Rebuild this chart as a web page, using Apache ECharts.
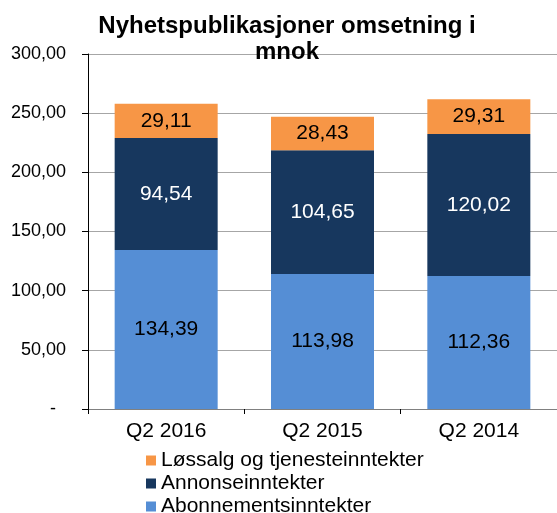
<!DOCTYPE html>
<html>
<head>
<meta charset="utf-8">
<script src="https://cdn.jsdelivr.net/npm/echarts@6/dist/echarts.min.js"></script>
<style>
  html, body { margin: 0; padding: 0; background: #fff; }
  #chart { width: 557px; height: 513px; }
</style>
</head>
<body>
<div id="chart"></div>
<script>
const categories = ["Q2 2016", "Q2 2015", "Q2 2014"];
const abonnement = [134.39, 113.98, 112.36];
const annonse = [94.54, 104.65, 120.02];
const lossalg = [29.11, 28.43, 29.31];
const yTicks = [0, 50, 100, 150, 200, 250, 300];

const FONT = "Liberation Sans, Arial, sans-serif";
const chart = echarts.init(document.getElementById("chart"));

function formatComma(value) {
  return Number(value).toFixed(2).replace(".", ",");
}

function segmentLabel(color) {
  return {
    show: true,
    position: "inside",
    color: color,
    fontFamily: FONT,
    fontSize: 21,
    formatter: ({ value }) => formatComma(value),
  };
}

chart.setOption({
  animation: false,
  backgroundColor: "#fff",
  title: {
    text: "Nyhetspublikasjoner omsetning i\nmnok",
    left: 282,
    top: 8,
    textAlign: "center",
    textStyle: {
      fontFamily: FONT,
      fontSize: 24,
      fontWeight: "bold",
      color: "#000",
      lineHeight: 26,
      align: "center",
    },
  },
  legend: {
    orient: "vertical",
    left: 146,
    top: 450,
    height: 80,
    padding: 0,
    itemWidth: 10,
    itemHeight: 10,
    itemGap: 2,
    icon: "rect",
    data: ["Løssalg og tjenesteinntekter", "Annonseinntekter", "Abonnementsinntekter"],
    textStyle: { fontFamily: FONT, fontSize: 21, color: "#000", lineHeight: 21 },
  },
  grid: {
    left: 88,
    top: 54,
    width: 471,
    height: 355,
  },
  xAxis: {
    type: "category",
    data: categories,
    axisLine: { lineStyle: { color: "#808080", width: 1 } },
    axisTick: { show: true, length: 5, lineStyle: { color: "#000" } },
    axisLabel: { color: "#000", fontFamily: FONT, fontSize: 21, margin: 12 },
  },
  yAxis: {
    type: "value",
    min: yTicks[0],
    max: yTicks[yTicks.length - 1],
    interval: 50,
    axisLine: { show: true, lineStyle: { color: "#000" } },
    axisTick: { show: true, length: 6, lineStyle: { color: "#000" } },
    splitLine: { lineStyle: { color: "#a6a6a6" } },
    axisLabel: {
      color: "#000",
      fontFamily: FONT,
      fontSize: 18,
      margin: 22,
      formatter: (value) => (value === 0 ? "-  " : formatComma(value)),
    },
  },
  series: [
    {
      name: "Abonnementsinntekter",
      type: "bar",
      stack: "total",
      data: abonnement,
      barWidth: 103,
      itemStyle: { color: "#558ED5" },
      label: segmentLabel("#000"),
    },
    {
      name: "Annonseinntekter",
      type: "bar",
      stack: "total",
      data: annonse,
      barWidth: 103,
      itemStyle: { color: "#17375E" },
      label: segmentLabel("#fff"),
    },
    {
      name: "Løssalg og tjenesteinntekter",
      type: "bar",
      stack: "total",
      data: lossalg,
      barWidth: 103,
      itemStyle: { color: "#F79646" },
      label: segmentLabel("#000"),
    },
  ],
});
</script>
</body>
</html>
